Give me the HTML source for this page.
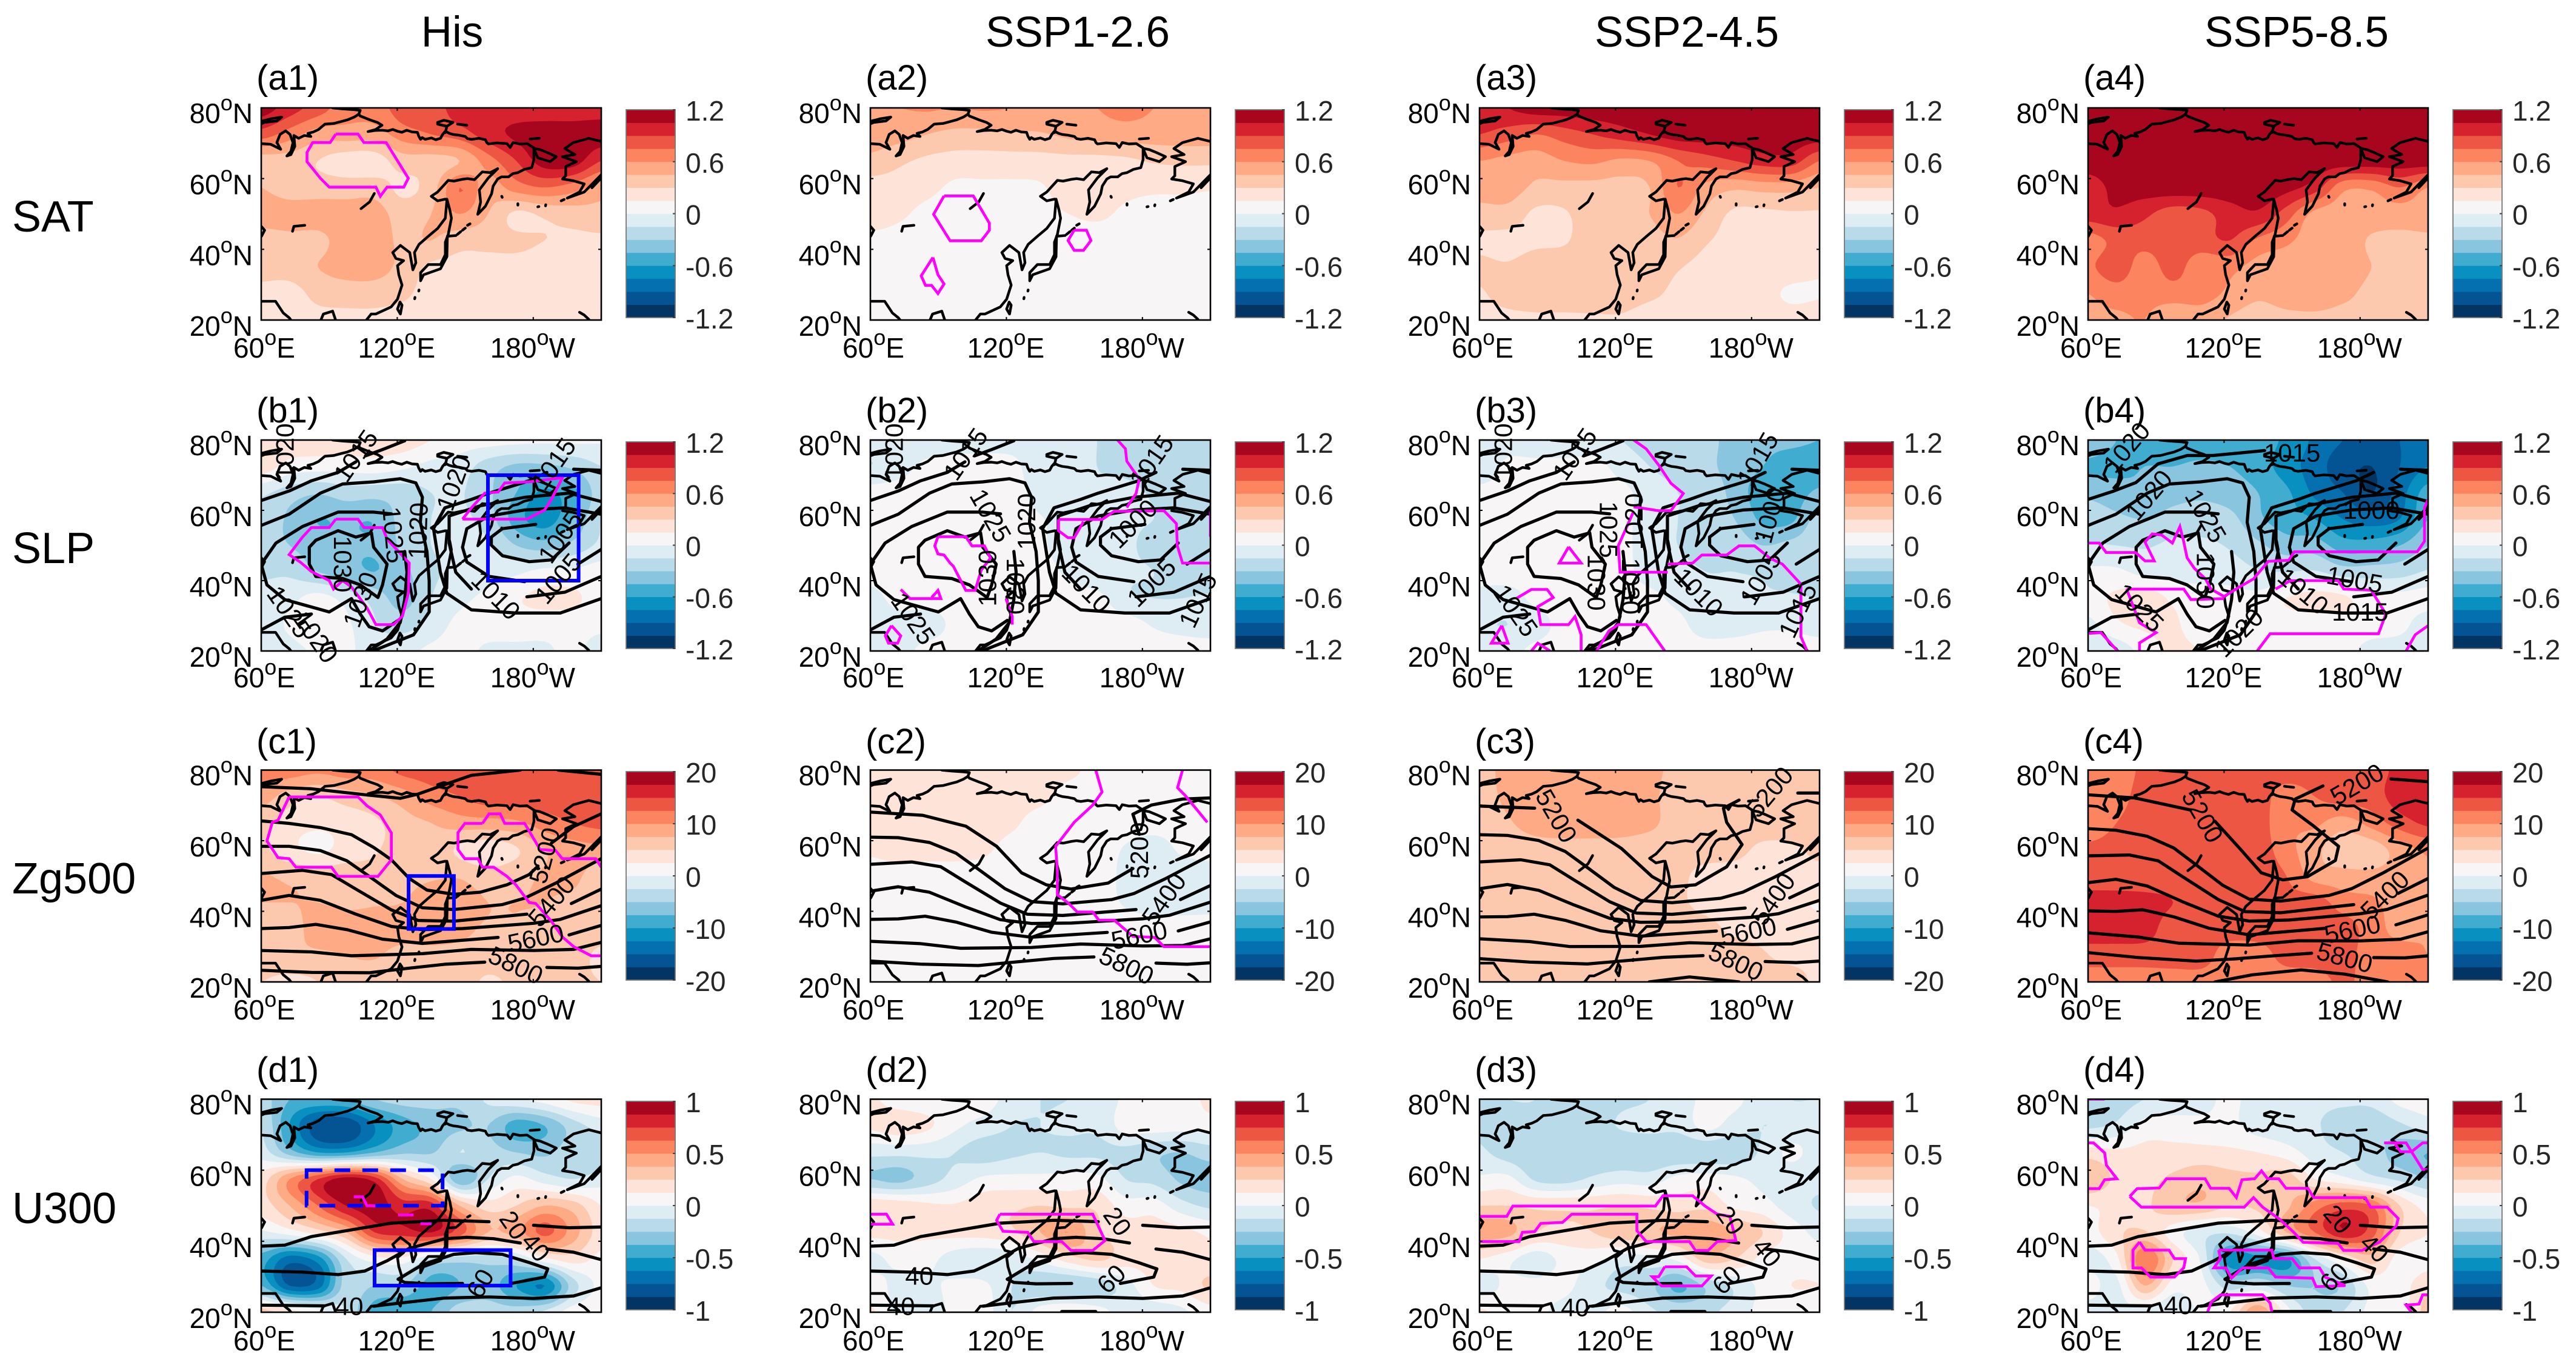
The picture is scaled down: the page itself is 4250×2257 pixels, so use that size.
<!DOCTYPE html>
<html lang="en">
<head>
<meta charset="utf-8">
<title>Anomaly maps: SAT, SLP, Zg500, U300</title>
<style>
html,body{margin:0;padding:0;background:#fff;width:4250px;height:2257px;overflow:hidden}
svg{display:block}
text{font-family:"Liberation Sans",sans-serif;fill:#000}
</style>
</head>
<body>
<svg id="chart" xmlns="http://www.w3.org/2000/svg" width="4250" height="2257" viewBox="0 0 4250 2257">
<rect x="0" y="0" width="4250" height="2257" fill="#fff"/>
<text x="746" y="77" font-size="71" text-anchor="middle">His</text>
<text x="1778" y="77" font-size="71" text-anchor="middle">SSP1-2.6</text>
<text x="2783" y="77" font-size="71" text-anchor="middle">SSP2-4.5</text>
<text x="3789" y="77" font-size="71" text-anchor="middle">SSP5-8.5</text>
<text x="20" y="382" font-size="72">SAT</text>
<text x="20" y="929" font-size="72">SLP</text>
<text x="20" y="1474" font-size="72">Zg500</text>
<text x="20" y="2018" font-size="72">U300</text>
</svg>
<script>
// ---- axis domain ----
const lonMin = 60, lonMax = 210, latMin = 20, latMax = 80;
const gridLons = [60,72.5,85,97.5,110,122.5,135,147.5,160,172.5,185,197.5,210];
const gridLats = [80,72.5,65,57.5,50,42.5,35,27.5,20];
const latTicks = [80,60,40,20];
const lonTicks = [60,120,180];
const lonTickLabels = ['60','120','180'];
const lonTickHemi = ['E','E','W'];

// ---- colour-bar tick labels ----
const cbLabelsSat = ['1.2','0.6','0','-0.6','-1.2'];
const cbLabelsSlp = ['1.2','0.6','0','-0.6','-1.2'];
const cbLabelsZg = ['20','10','0','-10','-20'];
const cbLabelsU = ['1','0.5','0','-0.5','-1'];

// ---- anomaly fields: rows follow gridLats, columns gridLons; values in colour-level units
// (1 level = 0.15 K for SAT, 0.15 hPa for SLP, 2.5 gpm for Zg500, 0.125 m/s for U300) ----
const fieldA1 = [
[7.5,6.5,5.5,4.5,4.5,5.5,5.5,6.5,6.5,6.5,6.5,6.5,6.5],
[5.5,4.5,3.5,3.5,3.5,4.5,5,5.5,6.5,7.2,7.5,7.5,7.5],
[2.5,2.5,2,1.5,1.5,2.5,2.5,3,4.5,6,7.5,7.5,6],
[3,2.5,2.5,2.5,2.5,1.8,2.5,5,3.5,4.5,5,4.5,3.5],
[3.5,3.5,3.5,3.5,3.5,2.5,3,4,3,1.8,2.2,2.5,2.7],
[2.5,2.7,2.7,3.5,3.5,2.8,3,2.4,2.3,2.2,2,1.8,1.8],
[2.4,2.5,3,3.4,3.4,2.7,1.8,1.7,1.7,1.7,1.6,1.6,1.6],
[1.7,1.6,2.3,2.5,2.5,2.2,1.6,1.6,1.6,1.6,1.6,1.6,1.6],
[1.6,1.6,1.7,1.7,1.7,1.6,1.6,1.6,1.6,1.6,1.6,1.6,1.6]];
const fieldA2 = [
[4,4,4.1,4,4.1,4,3.8,3.7,4,4.3,4,3.6,3.6],
[3.6,3.4,3,2.7,2.7,2.8,2.9,3.2,3.4,3.5,3.5,3.5,3.5],
[2.7,2.2,1.8,1.6,1.6,1.6,1.6,1.7,1.7,1.8,2.1,2.2,2.2],
[1.6,1.6,1.3,.8,.8,.8,.9,1.5,1.6,1.3,1.2,1.2,1.1],
[1.6,1.2,.7,.5,.5,.5,.7,1,1.2,.8,.6,.6,.6],
[.7,.6,.5,.5,.5,.5,.5,.5,.5,.5,.5,.5,.5],
[.5,.5,.5,.5,.5,.5,.5,.5,.5,.5,.5,.5,.5],
[.5,.5,.5,.5,.5,.5,.5,.5,.5,.5,.5,.5,.5],
[.5,.5,.5,.5,.5,.5,.5,.5,.5,.5,.5,.5,.5]];
const fieldA3 = [
[6.5,7,7.5,7.5,7.6,7.6,7.6,7.6,7.6,7.6,7.6,7.6,7.6],
[6,5.5,5,5.5,6,6.5,7,7.5,7.5,7.5,7.6,7.6,7.6],
[4,3.7,3.5,4,4.2,3.8,4,5,5.5,6,6.5,6.5,5],
[3.5,3.5,2.8,2.7,2.7,2.7,3,5,3.7,3.2,3.4,3.4,3],
[2.6,2.6,1.8,1.9,2.6,2.7,3,4,2.8,1.8,1.8,1.9,1.9],
[1.8,1.7,1.8,1.9,2.6,2.6,2.6,2.9,2.1,1.7,1.7,1.7,1.7],
[2.2,2.1,2.5,2.6,2.8,2.9,2.8,2.1,1.7,1.7,1.6,1.6,1.2],
[1.9,2.4,2.6,2.6,2.8,2.8,2.3,1.7,1.6,1.6,1.4,.8,.9],
[1.6,1.7,1.8,1.8,1.8,1.8,1.3,1.6,1.6,1.6,1.5,1.5,1.6]];
const fieldA4 = [
[7.6,7.6,7.6,7.6,7.6,7.6,7.6,7.6,7.6,7.6,7.6,7.6,7.6],
[7.6,7.6,7.6,7.6,7.6,7.6,7.6,7.6,7.6,7.6,7.6,7.6,7.6],
[7.5,7.6,7.6,7.6,7.6,7.6,7.6,7.6,7.6,7.6,7.6,7.6,7.6],
[6.5,7.3,7.5,7.6,7.6,7.6,7.6,7.3,6.5,4.3,4.2,5,4],
[6.5,6.8,6.2,5.5,5.7,6.5,6.8,5.5,3.7,3.5,3.5,3.5,3.6],
[4.5,5.3,5.4,5.5,5.6,6,4.8,4.2,3.5,3.5,2.9,2.8,2.8],
[4.8,5.6,4.5,5.4,4.3,4.3,3.6,3.5,3.5,3.5,3,2.8,2.8],
[4,4.5,4.3,4.5,4.4,3.8,3.2,3.5,3.5,3.2,2.8,2.8,2.8],
[3.8,3.8,4,3.2,3.4,2.9,2.5,2.7,2.8,2.7,2.7,2.7,2.7]];
const fieldB1 = [
[1.5,1.6,1.6,1.6,1.6,1.5,1,.5,.4,.3,.2,.2,.1],
[1.6,.6,.4,.4,.5,.2,-.3,-.5,-1.5,-2.2,-2.2,-1.8,-1],
[-.8,-1.5,-1.9,-1.5,-1.6,-1.5,-1,-.9,-1.8,-3,-4.2,-3.3,-1.5],
[-1.2,-2.2,-3,-2.8,-2.9,-1.6,-1,-.8,-1.5,-3.5,-4.5,-3,-1],
[-1.5,-2,-2.5,-2.8,-2.8,-1.8,-1,-.8,-.8,-2,-2.5,-1.7,-.8],
[-1.2,-1.2,-2,-2.5,-3,-2.3,-1.2,-.8,-.5,-.2,.3,.2,.5],
[-.6,-.3,.4,-.4,-1.4,-2.4,-1,-.3,.3,.9,1.2,1.2,.5],
[-.7,.2,1,.2,-.9,-1.4,-.6,.3,.5,.5,.5,.4,.3],
[-.7,-.4,.2,.3,-.7,-.3,.2,.4,-.2,-.2,-.2,.3,-.6]];
const fieldB2 = [
[-.5,-.6,-.8,-.6,-.5,-.4,-.4,-.6,-1,-1.4,-1.5,-1.5,-1.5],
[-1,-.5,.3,.5,.5,.3,-.7,-.8,-1,-1.2,-1.5,-1.3,-1.3],
[.4,.5,.6,.6,.6,.6,-.6,-.8,-.9,-.8,-1.1,-1.4,-1.4],
[.4,.5,.5,.5,.5,.5,.1,-.7,-.8,-.9,-1,-1.2,-1.3],
[.3,.4,.5,.5,.4,.4,.2,-.7,-.9,-.9,-1.2,-1.4,-1.5],
[.4,.5,.5,.5,.5,.4,.4,-.2,-.8,-.9,-1,-1.3,-1.5],
[-.4,.4,.5,.5,.5,.4,.4,.3,.3,-.8,-1,-1,-.9],
[-.8,-.5,-.6,.3,.5,.4,.4,.5,.5,.5,-.1,-.4,-.6],
[-.6,-.5,.4,.5,.5,.5,.5,.5,.5,.5,.5,.5,.5]];
const fieldB3 = [
[-.6,-.6,-1,-1,-.7,-1,-1.3,-1.3,-1.6,-2.5,-2.8,-2.8,-3],
[-1,.3,.4,.4,.4,-.4,-1,-1.3,-1.7,-2.5,-3,-3.5,-3.5],
[.4,.5,.5,.5,.5,.3,-.5,-1,-1.2,-2.4,-3.5,-3.5,-2.8],
[.4,.5,.5,.5,.5,.3,-.5,-1,-1.3,-2,-3.2,-3.2,-1.5],
[.3,.4,.5,.5,.4,.4,-.7,-1,-1.2,-1.4,-2,-1.7,-1.3],
[.3,.5,.5,.5,.4,.4,-.5,-.8,-1,-1,-1.1,-1.3,-1.5],
[-.3,-.5,.3,.5,.4,.4,.3,-.3,-.8,-.9,-.9,-.9,-1],
[-.9,-1,-.5,.4,.4,.4,.3,.3,-.6,-.5,-.2,-.2,-.5],
[-.6,-.4,.3,.4,.4,.4,.5,.5,.5,.5,.5,.5,.5]];
const fieldB4 = [
[-2.2,-3,-3.5,-3.6,-3.6,-3.5,-3.6,-4.2,-5.2,-6,-6.2,-6,-5.5],
[-3.2,-3.3,-3,-3,-2.8,-3,-3.5,-4.5,-5.5,-6.6,-7,-6,-5],
[-2.2,-2.5,-2.8,-2.4,-2.2,-2.5,-3,-3.8,-5.2,-6,-7,-5.5,-3.5],
[-1.5,-1.8,-2,-1.6,-1.5,-1.7,-2.8,-3.5,-4,-5,-5.5,-5,-3],
[-.9,-1,-1.1,-.8,-.8,-1.1,-1.8,-2.5,-2.5,-3.5,-3.5,-3,-2],
[.2,.2,-.3,-.4,-.4,-.5,-.9,-1,-.9,-1.5,-1.5,-1.4,-.9],
[.6,1.2,1.6,.8,.4,.4,.3,1,1.4,1.2,.3,.3,.4],
[-.3,.8,1.2,1.2,.3,.5,.5,.5,.5,.5,.4,.3,-.6],
[-.7,-.6,.4,1.2,1,.5,.5,.5,.5,.3,-.3,-.5,-.7]];
const fieldC1 = [
[4.6,4.5,4.2,4.5,4.5,5.3,5.5,5.5,5.5,5.5,5.4,5.2,5.2],
[3.5,2.5,2,2.5,2.9,3.5,4.5,5,5.5,5.5,5.5,5.5,5.5],
[2.4,1.5,1.2,1.4,1.8,2.6,3,3.5,3.6,3.8,4.5,5,5.3],
[2.2,1.3,.8,1.4,1.9,2.4,2.8,1.8,1.4,1.9,3,3.5,3.7],
[3.1,2.8,2.6,2.6,2.4,2.7,2.9,2.9,2.4,2.7,3.1,3.2,2.5],
[3,3,3,2.8,2.9,3,3.5,3.6,3,3,3,2.8,2.8],
[2.4,2.5,3.5,3.5,3.5,3.5,3.5,3.2,2.9,2.9,2.8,2.5,2.5],
[2.6,2.8,2.8,3,3.1,2.6,2.7,2.8,2.7,2.6,2.5,2.4,1.8],
[2,1.7,2,2.5,2.4,2.4,2.5,2.6,1.8,2.3,2.5,2.2,2]];
const fieldC2 = [
[1.4,1.5,1.5,1.5,1.5,1.5,1.5,1.3,.6,.4,.4,.5,.5],
[1.4,1.5,1.5,1.5,1.5,1.5,1.3,.5,.5,.5,.5,.5,.5],
[1.4,1.5,1.5,1.5,1.5,1.2,.5,.5,.5,.5,.5,.5,.5],
[1.2,1.5,1.4,1.4,1.2,.6,.5,.4,.5,-.1,-.6,.2,.4],
[.4,.5,.5,.5,.5,.5,.5,.4,.4,-.2,-.6,-.7,-.5],
[.5,.5,.5,.5,.5,.5,.5,.5,.4,-.1,-.5,-.5,-.4],
[.5,.5,.5,.5,.5,.5,.5,.5,.5,.5,.5,.5,.5],
[.5,.5,.5,.5,.5,.5,.5,.5,.5,.5,.5,.5,.5],
[.5,.5,.5,.5,.5,.5,.5,.5,.5,.5,.5,.5,.5]];
const fieldC3 = [
[2.5,3.4,3.6,3.6,3.6,3.5,3.2,2.8,2.6,2.6,2.5,2.5,2.5],
[2.6,3.2,3.5,3.6,3.6,3.5,3.2,2.6,2.5,2.5,2.5,2.5,2.5],
[2.5,2.9,3.4,3.6,3.6,3.5,3.2,2.6,2.5,2.5,2.5,2.6,2.7],
[2.5,2.5,2.6,2.6,2.6,2.6,2.5,2.5,2.5,2.3,1.8,1.8,2.3],
[2.5,2.5,2.5,2.6,2.6,2.6,2.6,2.3,1.6,1.6,1.6,1.6,1.6],
[2.6,2.6,2.6,2.6,2.6,2.6,2.6,2.2,1.7,1.6,1.6,1.1,1],
[2.6,2.7,2.7,2.7,2.7,2.7,2.6,2.5,2.3,1.8,1.7,1.4,1.2],
[2.6,2.6,2.5,2.5,2.5,2.5,2.5,2.5,2.5,2.5,2.1,1.7,1.7],
[2.5,2.5,2.5,2.5,2.5,2.5,2.5,2.5,2.5,2.5,2.5,2.5,1.7]];
const fieldC4 = [
[4.5,4.3,5.3,5.5,5.5,5.5,5.5,5.5,5.5,5.5,5.5,6.3,6.6],
[5,4.6,5.5,5.5,5.5,5.5,5.5,4.5,5,5.5,5.5,6.5,6.6],
[4.2,5,5.5,5.5,5.5,5.5,5.5,4.2,4.2,3.5,4.4,5.5,6.2],
[5.3,5.5,5.5,5.5,5.5,5.3,5.5,4.4,3.3,2.3,2.4,3.5,4.2],
[5.5,5.5,5.5,5.5,5.5,5.5,5.5,5,3.6,3.4,3.3,3.5,4],
[6.4,6.4,6.3,6,5.5,5.5,5.5,5.3,5.5,4.5,4.2,3.6,4],
[6.5,6.5,6.4,5.5,5.5,5.5,5.5,5.5,5.5,5.5,4.5,3.7,4],
[5.5,5.5,5.5,5.5,5.5,4.4,4.5,5.4,5.5,5.5,4.4,4.4,4],
[4.5,4.5,4.5,4.5,4.5,4.4,4.4,4.4,4.5,5.2,4.5,4.3,4.3]];
const fieldD1 = [
[-1.5,-3,-3.2,-3,-2,-1.6,-1.6,-1.8,-.8,-.2,.4,1.2,1.4],
[-1,-4,-6.6,-6.8,-5,-3.5,-2.7,-2.2,-2,-3.5,-3,-1.5,-.6],
[-.5,-2.5,-4,-4,-3,-2.2,-2.1,-1,-1.5,-2,-2.2,-1.5,-2],
[1.5,4,6,7.5,6.5,3,1,-2.8,-1,.3,-.5,-1,-.5],
[1.5,3,5,7,7.5,6.5,6.5,3,1.5,2,3,2.5,1],
[-.2,.5,1.5,3,6,6.5,7,5.5,3,3.5,5.3,3.5,1.5],
[-3.5,-5.5,-4.5,-1,.5,.7,-1,-1.5,-1.5,-1,.7,1.5,.7],
[-3,-6,-5.5,-1.5,-2,-2,-3.5,-3,-2.5,-4,-5,-1.5,.3],
[2.5,1.5,.5,-1,-3.5,-4,-3,-1.5,-1.5,-1.5,-.8,.5,.7]];
const fieldD2 = [
[1.2,.5,.3,.4,.5,-.5,-1,-1,-.8,.2,.3,.4,1.3],
[1.2,1.6,1.2,.2,-.4,-1,-1,-.8,-.8,.4,.5,.4,.5],
[-.7,-.7,-.7,-1,-1.5,-1.2,-1,-1.2,-1.2,-1.3,-1.8,-2,-1.5],
[-2,-2.3,-1.5,-.6,.2,.3,.3,.4,.3,-1,-1.3,-2.2,-2.5],
[1.8,1.6,1.2,1.1,1.6,1.8,2,1.8,1.8,.5,.5,-.6,-1.2],
[1.3,1.3,1.2,1.3,1.4,1.8,3,4,2.2,1.5,1.5,1.3,.8],
[-.3,.3,.3,-.5,-.8,-.6,.3,1.5,2.2,1.5,1.4,1.6,1.2],
[.5,-.3,-.2,.2,.2,-1,-1.8,-2,-1.7,-.5,1,1.3,2.2],
[1.2,-.4,-.4,.2,.5,-1,.5,1,.5,-.5,-.6,-.2,.6]];
const fieldD3 = [
[-1.2,-1,-1,-1.5,-1.5,-1.2,-1,-.6,.3,.3,-.7,-1,-1],
[-1.2,-1.5,-1.5,-1.7,-1.5,-.9,-.7,-.7,.3,-.5,-1,-.7,-.3],
[-.8,-1.5,-1.8,-1.8,-1.8,-1.8,-1.8,-1.8,-1.7,-1.7,-.8,.2,-.5],
[.2,.3,-1.2,-1.4,-.8,-.4,-.5,.3,.5,.2,-.3,-.6,-.7],
[2,2,1.8,1.8,1.8,2,1.8,1.5,1.7,.8,.4,-.5,-1.1],
[3.5,3.3,2,1.7,2,2.7,2.8,3.3,3.8,3,2,.6,-.3],
[1,.3,-.6,.3,.3,-.5,-.3,.3,2.5,2,.7,.5,.5],
[-.5,.2,.3,.3,-.7,-1.3,-1.7,-3.2,-1.8,-.8,.3,1,1],
[1.2,.5,.3,-.4,-.4,.4,-.8,-1.2,-1.2,-.6,.3,.3,.3]];
const fieldD4 = [
[-1.5,-1.5,-1,-.7,-.5,.3,-.7,-.8,-.8,-.8,-.7,.3,.5],
[-1.2,-.8,.4,.5,.4,.3,-.5,-.8,-.9,-1.5,-1.8,-1.2,-.5],
[1.5,1.2,1.3,1.3,1.3,1.2,1,.5,-.5,-1,-1.5,-2.5,-3],
[3,1.8,1.7,2.2,2.7,2.3,2.2,2.5,1,.3,-.6,-1.2,-2],
[1,1.3,1.8,2.7,2.8,2,2.2,2.8,4.5,5.5,5,2,.6],
[.5,1.8,2.1,.5,-.6,-.8,.5,3,5,6.8,5.5,2,1],
[-.5,.7,5,2,-.2,-4.5,-4.2,-4.2,-1,1,2.5,.5,.5],
[.5,-.3,3,.5,.3,-1.5,-.8,-2,-2,-1.8,.3,.5,1.8],
[-.5,-.4,-.4,-1,.3,1,4,.5,-1.5,-1,.3,.3,2.5]];

// ---- coastlines as flat lon,lat lists ----
const coastlines = [
[60,69.9,64.2,69.7,68.6,68.3,66.9,70.2,68.3,72.5,70.8,73.5,72.7,72.5,74,70.2,73.1,67.7,71.3,66.4,73.1,66.8,74.8,69.1,74.4,72.2,76.5,71.4,79,72.2,81.9,71.9,80.6,72.8,83,73.2,85.3,73.9,88.1,75.4,92,75.6,95.5,76.2,98,76.6,101,77.4,103,78.2,103.7,79.3,101,79.5,96,79.7,91.5,80],
[103,78.2,103.7,77.7,108,76.6,111.2,75.9,113.3,75.1,110.5,73.9,107.1,73.3,110,73.6,113.3,73.7,116,73.5,118,73.9,120.1,73.4,122,73.1,124.2,73.7,126.5,73.2,128.9,73.1,129.5,72,130.3,71.1,131,71.6,132.3,71.1,135,71.5,137,71,139.1,71.4,140,72.5,141.2,73.4,143,72.8,144.6,72.5,147,72.3,150,71.9,151,71.3,152.8,71.1,156,71.4,158.9,71,159.5,70.2,160.2,69.8,164,70.1,168.4,69.9,169.8,68.8,171.1,70.2,174,69.8,177.3,69.9,180.7,68.5,183,68.2,186.1,67.4,190.2,66.2,187.5,64.8,182,65.9,180.3,68.5,180.3,65.4,179.3,63.1,176,62.6,173.2,61.7,171,61.4,169.1,60.5,166,60.5,164.3,59.9,162.3,57.9,161.6,55.7,158.9,52.2,155.5,49.9,156.8,53.4,156.2,56.8,160.2,60.2,164.3,62.8,161,61.7,157.5,61.9,154.1,59.7,151,60,148.7,59.8,145,59.3,142.5,59.5,137.8,56.2,135,55,137.8,53.7,141.2,54.2,141.9,53.9,141.2,48.8,137.8,45.9,133.7,43.7,129.6,41.4,127.6,39.1,128.2,36.2,126.9,34.2,125.5,39.1,121.4,41.1,118,39.1,119.4,37.4,122.8,36.8,120.1,35.4,120.7,32.8,122.1,29.9,120.1,25.9,117.3,23.7,110.5,21.7,108.5,21.7,106.4,20],
[141.9,54.2,143.2,51.1,143.9,48.8,142.5,44.2,141.2,42,141.2,38.5,139.1,35.7,133.7,35.7,130.3,33.4,130.3,31.1,131.6,32.8,139.1,34.5,141.9,37.9,142.1,43.7,145.9,43.9],
[210,70.5,204.5,71.4,197.7,70.2,193.9,68.5,198.4,66.8,192.9,66.2,199,64.8,194.3,63.4,194.3,60.8,192.9,59.9,197.7,59.4,202.5,58.5,200.4,56.2,195,54.5,202.5,56.2,210,61.1],
[210,60.2,205.9,57.4],
[178.6,71.2,182.7,71.4],
[137.8,75.9,140.5,76.5,144.6,75.9,141.9,74.8,137.8,75.4,137.8,75.9],
[141.9,74.8,141.2,73],
[146.6,75.4,150.7,75.1],
[60,76.2,64.2,76.9,69,77.4,66.9,76.3,61.5,75.9,60,75.5],
[109.9,55.8,107.8,53.4,104,51.5],
[73.8,45.1,74.4,46.5,79.2,46.8],
[60,46.5,61.5,45.4,60.1,43.7],
[60,25.3,66.3,25.3,69.7,22,72.4,20.6,73.1,20],
[86.3,20,87.4,21.7,91.5,22.5,92.8,20],
[121.2,25.1,120.1,23.1,121.4,21.7,122.1,24.2,121.2,25.1],
[129.6,28.5,129.5,28.2],[127.8,26.4,127.7,26],
[200.4,22.2,202.5,21.4,204.5,20.2],
[146.5,44.2,148,45],[148.8,45.4,150,46],[151,46.8,152.1,47.2],
[192.3,53.7,193.6,54.1],[185.4,52.3,185.5,52.6],[182,52,182.5,52.1],[173.2,52.9,173.2,52.5],[166.1,55,166.3,54.7]
];

// ---- climatology contours (lon,lat lists) ----
const slpWest1a = [[60,62.8,72.3,65.5,82.1,68.4,93.9,70.8,101.7,73.8],[106,75.5,113.5,77.3,123.3,79.8]];
const slpWest1b = [[60,63.1,71.4,65.5,81.1,67.9,90.8,73.2,103.8,75.6,115.1,75.6,137.9,77]];
const slpShared = [
[60,55.7,72.3,58.9,86.1,64.9,95.9,67.5,109.6,68.1,121.3,69,128.2,67.8,131.1,63.7,130.2,56.6,133.1,48.3,134.1,40,134.1,31.1,127.2,24.6,109.6,20.1],
[60,44.7,66.5,50.7,78.2,55.4,93.9,59.5,109.6,59.5,117.4,59],
[123.3,48.3,124.3,42.4,123.3,34.6,121.3,28.1,115.5,23.4,107.6,20.1],
[60,44.7,62.5,38.8,70.4,34.6,90,31.1,99.8,34.9,103.7,30.5,107.6,26.9,113.5,25.7,120.4,28.7],
[81.2,49.5,84.1,51.5,93.9,54.2,101.7,52.4,108.6,53.6,109.6,49.5,115.5,44.7,113.5,38.8,111.5,35.2,103.7,38.8,95.9,40.6,84.1,41.2,81.2,44.7,81.2,49.5],
[60,26,70.4,29.6,82.1,30.5],
[136,54.8,139,42.4,141.9,36.4,152.7,31.7,172.3,30.8,191.9,30.8,210,34.9],
[136,54.8,141,60.7,152.7,63.1,160.5,64.9,178.2,68.4,186,70.8],[197.8,71.7,210,71.4],
[142.9,50.7,142.9,58.4,156.6,61.3,176.2,63.7,195.8,64.9,210,62.5],
[142.9,50.7,145.8,42.4,152.7,37.6],[177.2,35.4,193.9,36.7,210,41.2],
[148.8,49.5,150.7,54.8,160.5,58.4,176.2,60.1,193.9,60.7,210,58.9],
[148.8,49.5,150.7,45.3,160.5,41.2,176.2,39.7],[199.7,44.7,210,48.9],
[161.5,52.4,166.4,54.8,181.1,56],[195.8,50.7,188,45.9,178.2,45.4,166.4,47.1,161.5,50.1,161.5,52.4]
];
const zgShared = [
[60,58.4,72.3,58.4,86.1,57.2,97.8,54.3,107.6,49.9,119.4,44.5,131.1,41,144.9,40.5,166.4,41.9,176.2,43.7,190,48,210,54.9],
[60,50.7,78.2,51.6,91,50.4,101.7,46.3,117.4,40.4,129.2,37.4,144.9,37.2,177.2,39.2],[196.8,42.2,210,46.3],
[60,43.1,72.3,44.5,86.1,43.1,101.7,39.2,117.4,35.7,131.1,34.8,148.8,35.1,180.1,36.6,191.9,37.7,210,41.6],
[60,35.1,72.3,35.4,84.1,36.3,97.8,34.8,113.5,32.1,131.1,30.9,164.5,32.6],[195.8,33.3,210,36],
[60,28.9,82.2,28.5,99.8,27.4,131.1,28,152.7,29.2,180.1,28.9,197.8,29.2,210,31.2],
[60,23.3,82.2,22.7,107.6,22.6,125.3,23.9,140.9,25,158.6,25.6],[186,24.1,199.7,23.9,210,24.4]
];
const zgLinesC1 = [
[60,75.3,82.2,74.7,107.6,72.9,121.3,72,129.2,73.2,141,75.9,152.7,78.5,174.3,80],[191,80,210,78.8],
[60,65.6,72.3,64.9,86.1,63.7,99.8,61.7,109.6,58.1,117.4,54.6,125.3,49.3,133.1,46,144.9,44.8,156.6,45.4,168.4,47.5,178.2,50.4,182.1,52.8],[188,59.3,197.8,64,210,67.6]
];
const zgLinesC2 = [
[60,68.1,83,67.2,102.1,64.1,115.7,58.4,126.7,50.9,137.6,47.5,148.5,46.3,164.9,48,175.8,52.1],[178.6,61.8,175.8,67.5,184,70.1,197.7,71.8,210,72.1]
];
const zgLinesC3 = [
[60,69.8,84.3,69.2],[103.4,65.8,122.6,57.8,136.2,49.8,144.4,46.9,155.3,47.5,169,52.6,175.8,58.9,169,65.2,167.6,69.2,174.5,71.5],[200.4,73.5,210,73.5],
[134.9,20,152.6,21.4,174.5,20]
];
const zgLinesC4 = [
[60,73,80.6,72.1,105.1,68.7],[116,65.5,126.9,57.8,136.4,50.9,145.9,48.9,156.8,49.8,169.1,54.4,170.5,58.4,159.6,64.1,150,68.7,151.4,71.8,163.6,75.5],[193.6,77.5,210,76.7],
[116,20,132.4,22,154.1,23.4,173.2,22.2,192.2,20]
];
const zgShiftC1 = [0,0,0];
const zgShiftC2 = [2.6,1.7,1];
const zgShiftC3 = [3.3,2,1.5];
const zgShiftC4 = [5,2.3,3];
const uShared = [
[60,38.6,70.4,38.9,82.1,41.3,97.8,43,117.4,45.1,140.9,45.9,160.5,45.5],[180.1,44.5,195.8,43.8,210,44],
[60,31.6,78.2,31.3,93.9,30.6,105.7,31.6,115.5,34.5,125.3,38,141,40.7,150.7,41.1,162.5,40.7,174.3,39.5],[186,37.8,197.8,36.9,210,34.8],
[120.4,29.3,131.1,33.4,144.9,36.3,154.7,36.8,166.4,36.3,178.2,34,186.4,32.2,185,29.9,170.3,28.1],[148.8,28.1,133.1,28,123.3,28.4,120.4,29.3],
[60,22,87.9,21.8],[109.6,21.7,121.3,22.6,141,24,160.5,24.3,180.1,23.9,197.8,24.6,210,26.9]
];
const uExtraD23 = [[144.4,20.2,159.4,20.2]];
const uExtraD4 = [[141.9,20.2,167,20.2]];

// ---- contour labels: lon, lat, text, rotation ----
const labelsB1 = [[70.4,76.7,'1020',-90],[101.7,75.5,'1015',-55],[144.9,67.8,'1020',-70],[129.2,54.2,'1020',-88],[118.4,53,'1025',85],[95.9,44.7,'1030',90],[103.7,34.6,'1030',-70],[72.3,31.1,'1025',55],[84.1,24,'1020',55],[163.5,35.8,'1010',45],[191,40.6,'1005',-50],[191.9,52.4,'1005',-55],[189,73.2,'1015',-55]];
const labelsB2 = [[70.4,76.7,'1020',-90],[102,76,'1015',-55],[184,74,'1015',-55],[128.8,56.8,'1020',-90],[113,58.5,'1025',60],[111.6,40.7,'1030',-90],[78.9,29.2,'1025',55],[124,38.4,'1030',90],[155.3,37.8,'1010',45],[184,39.5,'1005',-45],[175.8,56.2,'1000',-45],[204.5,34.4,'1015',-65]];
const labelsB3 = [[70.4,76.7,'1020',-90],[102,76,'1015',-55],[182.7,74.6,'1015',-60],[128,56.8,'1020',-90],[117,54.5,'1025',90],[111.6,39.5,'1030',90],[76,31.5,'1025',55],[126.7,38.4,'1030',90],[156.7,36.7,'1010',45],[184,40.7,'1005',-60],[188,58.6,'1000',-75],[200.4,31.5,'1015',-65]];
const labelsB4 = [[77,77.9,'1020',-50],[150,76.4,'1015',0],[86.8,64.3,'1020',-50],[111.9,58.4,'1025',60],[111.9,40,'1030',90],[82.7,32.3,'1025',45],[126.5,25.2,'1020',-45],[177.6,40.3,'1005',10],[180,31.1,'1015',0],[154.9,37,'1010',40],[185,60.1,'1000',0]];
const labelsC1 = [[181.1,32.4,'5600',-12],[172.3,24.7,'5800',25],[188,42.8,'5400',-50],[185,55.8,'5200',-75]];
const labelsC2 = [[178.6,57.2,'5200',-90],[189.5,43.5,'5400',-55],[178.6,33.2,'5600',-12],[173,24.6,'5800',25]];
const labelsC3 = [[93.9,67,'5200',60],[188,73.8,'5200',-50],[189.5,43.5,'5400',-55],[178.6,34.3,'5600',-12],[173.1,25.7,'5800',25]];
const labelsC4 = [[110.5,67,'5200',60],[178.6,76,'5200',-30],[190.9,44.6,'5400',-45],[176.6,34.9,'5600',-12],[173.2,26.9,'5800',15]];
const labelsD1 = [[171.3,44.5,'20',55],[181.1,38.3,'40',50],[156.6,28.1,'60',-60],[98.8,21.7,'40',0]];
const labelsD2 = [[169,45.6,'20',55],[81.6,30.2,'40',0],[166.3,29.4,'60',-45],[73.4,21.7,'40',0]];
const labelsD3 = [[170.7,45.9,'20',55],[186.8,36.8,'40',50],[169,29.1,'60',-45],[102.1,21.4,'40',0]];
const labelsD4 = [[170.2,46.2,'20',50],[186.4,38,'40',45],[168.5,29.9,'60',-45],[99.7,22,'40',0]];

// ---- significance outlines (lon,lat lists) ----
const sigA1 = [[92.9,72.6,102.7,72.6,105.3,70.2,115.1,70.2,124.9,60.1,122.9,57.6,115.5,57.6,112.5,55,110.6,57.6,90,57.6,86.1,60.1,80.2,64.8,80.2,67.4,82.7,70.2,90.4,70.2,92.9,72.6]];
const sigA2 = [[92.5,55.1,105.4,55.1,112.5,47.4,112.5,45.4,108.9,42.4,95.2,42.4,87.9,49.9,92.5,55.1],[149.9,45.4,155.3,45.4,157.3,42.5,154,39.7,149.9,39.7,147.2,42.5,149.9,45.4],[87.6,37.7,89.8,32.8,92.5,30.2,89.8,27.5,87,29.8,84.3,29.8,82.4,32.5,87.6,37.7]];
const sigA3 = [];
const sigA4 = [];
const sigB1 = [[92.9,57.5,102.7,57.5,105.3,55.1,113.5,55.1,115.5,51.8,125.3,45,124.9,36.4,122.3,29.9,118.4,27.5,110.6,27.5,106.6,32.3,99.8,38.2,95.9,40,91.9,37.6,90,40,82.1,42.6,77.2,45.3,72.3,47.4,78.2,52.4,82.1,55.1,90,55.1,92.9,57.5],[148.8,57.5,152.7,60.7,158.6,64.9,164.5,65.2,167.4,67.8,178.2,68.1,192.9,69.3,188,63.1,185,60.1,177.2,57.5,148.8,57.5]];
const sigB2 = [[169,80,172.5,77.5,173.1,74,178.6,68.9,177.2,64.8,173.1,60.8],[143,57.4,162.2,57.4,167.6,59.7,189.5,59.9,195,56.2,195.4,49.9,197.7,45,210,45],[143,57.4,143,54.2,147.2,52.2,149.9,52.2,154,56.8],[210,59.7,210,52.5],[89.8,52.5,102.1,52.5,104.8,49.9,110.3,49.9,113,46.4,108.9,43,106.2,37.2,102.1,37.2,96.6,44.1,95.2,45,92.5,47.3,89.8,47.6,88.4,49.9,89.8,52.5],[73.4,37.5,77.5,34.9,91.1,34.9,89.8,37.2,87,35.2],[69.3,27.2,73.4,24.3,72,22.2,68,22.2,66.6,24.3,69.3,27.2],[119.8,34.9,122.6,29.8,122.6,27.5]];
const sigB3 = [[128,80,133.5,77.5,139,72.9,144.4,67.7,149.9,64.8,144.4,59.9,139,59.9,128,61],[128,59.7,121.2,49.9,122,42.4,143,42.4],[143,44.7,154,45,158.1,47.3,169,47.3,174.5,49.9,181.3,49.9,188.1,46.4,193.6,44.7,201.8,39,201.8,24,204.5,20],[99.3,49.6,104.8,45,95.2,45,99.3,49.6],[76.1,34.9,82.9,37.5,89.8,37.5,92.5,35.2,85.7,32.6,87,27.5,99.3,27.5,102.1,29.8,104.8,24.6,104.8,20],[69.8,27.2,72.6,22.2,65.2,22.2,69.8,27.2],[82.9,20,85.7,22.2,91.1,20],[111.6,20,117.1,25.7,121.2,27.5,133.5,27.5,141.7,20]];
const sigB4 = [[60,50.7,64.9,50.7,68,48,81,48,85.1,45.6,89.2,45.6,85.1,51,88.3,53.3,92.4,53,97.2,50.7,100.5,55.4,102.1,51.3,103.7,46.5,106.9,43.5,111.8,40.5,114.2,37.6,120,35.5,126.5,38.1,133,40.5,139.5,45.5,148.5,45.8,151,48.2,205.2,48.2,208.4,51.2,208.4,60.7,210,63.1],[60,25,65.7,25.2,73,20],[77,37.6,102.2,37.6,105.4,34.6,120,34.9],[77,37.6,82.7,28,90,25.2,82.7,22.3,82.7,20],[142.7,37.6,149.2,40,170.3,40,172.8,37.6,184.9,37.3,191.4,30.5,188.1,24.9,140.3,24.9,134.6,20],[210,27.2,204.3,24.6,200.3,20]];
const sigC1 = [[72.3,72.4,102.7,72.4,106.6,69.9,112.5,67.3,117.4,62.2,117.4,54.6,111.5,49.9,93.9,49.9,91,52.5,75.3,52.5,72.3,54.9,67.4,55.2,62.5,59.9,64.9,65.2,67.4,65.8,72.3,72.4],[157.6,64.9,160.5,67.6,165.4,67.6,167.4,64.9,176.2,64.9,183,57.5,189.9,57.2,192.8,54.9,207.6,54.9,210,52.5],[157.6,64.9,149.8,64.9,146.8,62.3,146.8,57.5,149.8,54.9,155.6,54.9,157.6,52.5,162.5,52.5,168.4,49.9,172.3,47.5,178.2,42.5,181.1,42.2,188,37.2,192.9,32.7,197.8,30,205.6,27.4,210,27.4]];
const sigC2 = [[159.4,80,162.2,73.8,158.1,70.1,149.9,65.2,141.7,58.4,142.5,51.5,142.5,44.7,147.2,42.4,151.3,39.8,158.1,39.8,160.8,37.5,167.6,37.5,175.8,32.9,185.4,32.6,189.5,30,210,30],[197.7,80,195.5,75,199,72.7,208.6,65.2]];
const sigC3 = [];
const sigC4 = [];
const sigD1 = [[100.8,52.5,104.7,52.5,106.6,50,113.5,49.9],[120.4,47.4,127.2,47.4],[130.2,44.9,135.1,44.9]];
const sigD2 = [[60,47.6,67.1,47.6,69.8,44.8,60,44.8],[117.1,47.6,158.1,47.6,163.5,40.2,158.1,37.4,148.5,37.4,144.4,39.9,132.1,39.9,129.4,42.5,118.5,42.8,115.7,45.9,117.1,47.6]];
const sigD3 = [[60,47,72,47,74.7,49.9,137.6,49.9,140.9,52.8,154,52.8,159.5,49.9,164.9,47.6,170.4,47,173.1,40.2,164.9,39.9,160.8,37.4,155.3,37.4,152.6,39.9,133.5,39.9,129.4,43,129.4,47.6,100.7,47.6,96.6,45.3,87,45,84.3,42.7,78.9,42.5,77.5,39.9,60,39.9],[141.7,32.8,151.3,32.8,155.3,30.2,162.2,30.2,158.1,27.4,140.3,27.4,136.2,30,139,30,141.7,32.8]];
const sigD4 = [[60,67.7,62.4,67.7,67.3,64.9,68.1,61.4,72.7,57.6,67.3,57.3,64.9,54.8,60,54.8],[60,80,67.3,80],[78.4,52.6,81.6,54.8,91.4,55,94.6,57.6,111.6,57.6,114.1,54.9,122.2,54.9,125.4,52.3,127.9,57.3,133.5,57.6,136.5,59.8,139.2,57.6,144.1,57.6,147.3,54.9,157,54.9,159.5,52.3,182.2,52.3,184.6,49.6,191.9,49.6,196.8,46.4,196,44.3,188.7,39.8,180.8,37.4,172.7,37.4,170.3,39.4,154.9,39.7,150.9,42.4,144.5,46.2,137,49.6,133,52.3,128.9,49.6,83.5,49.6,78.4,52.6],[82.7,39.8,85.1,37.5,95.7,37.5,98.1,35.1,103,35.1,102.2,32.5,98.1,29.9,87.6,29.9,83.5,32.5,79.8,32.5,79.8,37.5,82.7,39.8],[117.6,37.5,141.1,37.5,141.9,35.1,150,35.1,153.2,32.5,162.1,32.5,164.6,29.9,173.5,27.5,160.6,27.2,159,29.6,142.7,29.9,139.5,32.5,128.1,32.5,123.3,29.6,120.8,32.5,115.5,32.5,118.4,35.1,117.6,37.5],[112.7,20,114.3,22.9,118.4,24.9,137,24.9,140.3,22.6,141.1,20],[190.6,67.7,200.3,67.7,202.7,65.2,197.9,65.2,195.5,67.3],[210,67.7,207.6,67.7,202.7,65.2,207.6,60.2,210,60.2],[210,24.9,207.6,24.9,206,22.3,200.3,22,202.7,20]];

// ---- analysis regions: lonW, lonE, latS, latN ----
const boxB1 = [160,200,40,70];
const boxC1 = [125,145,35,50];
const boxD1Solid = [110,170,27.5,37.5];
const boxD1Dashed = [80,140,50,60];

// ---- layout and styling ----
const palette = ['#023464','#045494','#0570b0','#0890c0','#3facd0','#8ac5df','#b9dbe9','#deecf3','#f7f5f5','#fde3d8','#fdc9ae','#fdaa85','#fc8560','#ee5644','#d6222e','#a8051f'];
const colLefts = [431,1436,2441,3445];
const panelW = 561;
const rowGeom = [
 {top:178,bottom:528,cbTop:181,cbBottom:524,tagBase:148,xBase:590},
 {top:726,bottom:1074,cbTop:729,cbBottom:1070,tagBase:697,xBase:1134},
 {top:1270.5,bottom:1620,cbTop:1273,cbBottom:1617,tagBase:1243,xBase:1682},
 {top:1813.5,bottom:2165,cbTop:1817,cbBottom:2161,tagBase:1785,xBase:2228}
];
const UP = 8;
const rowSpecs = [
 {id:'a',cb:cbLabelsSat,fields:[fieldA1,fieldA2,fieldA3,fieldA4],lines:[[],[],[],[]],labels:[[],[],[],[]],sig:[sigA1,sigA2,sigA3,sigA4],shift:null,boxes:[[],[],[],[]]},
 {id:'b',cb:cbLabelsSlp,fields:[fieldB1,fieldB2,fieldB3,fieldB4],lines:[slpShared.concat(slpWest1a),slpShared.concat(slpWest1a),slpShared.concat(slpWest1a),slpShared.concat(slpWest1b)],labels:[labelsB1,labelsB2,labelsB3,labelsB4],sig:[sigB1,sigB2,sigB3,sigB4],shift:null,boxes:[[[boxB1,false]],[],[],[]]},
 {id:'c',cb:cbLabelsZg,fields:[fieldC1,fieldC2,fieldC3,fieldC4],lines:[zgShared,zgShared,zgShared,zgShared],extra:[zgLinesC1,zgLinesC2,zgLinesC3,zgLinesC4],labels:[labelsC1,labelsC2,labelsC3,labelsC4],sig:[sigC1,sigC2,sigC3,sigC4],shift:[zgShiftC1,zgShiftC2,zgShiftC3,zgShiftC4],boxes:[[[boxC1,false]],[],[],[]]},
 {id:'d',cb:cbLabelsU,fields:[fieldD1,fieldD2,fieldD3,fieldD4],lines:[uShared,uShared.concat(uExtraD23),uShared.concat(uExtraD23),uShared.concat(uExtraD4)],labels:[labelsD1,labelsD2,labelsD3,labelsD4],sig:[sigD1,sigD2,sigD3,sigD4],shift:null,boxes:[[[boxD1Solid,false],[boxD1Dashed,true]],[],[],[]]}
];

const NS = 'http://www.w3.org/2000/svg';
const chart = document.getElementById('chart');
function make(tag, attrs, parent){
  const el = document.createElementNS(NS, tag);
  for (const k in attrs) el.setAttribute(k, attrs[k]);
  parent.appendChild(el);
  return el;
}
function upsample(g){
  const R = g.length, C = g[0].length, out = [];
  const cr = (a,b,c,d,t) => b + .5*t*(c-a + t*(2*a-5*b+4*c-d + t*(3*(b-c)+d-a)));
  const at = (r,c) => g[Math.max(0,Math.min(R-1,r))][Math.max(0,Math.min(C-1,c))];
  for (let j=0;j<=(R-1)*UP;j++){
    const r = Math.min(R-2,Math.floor(j/UP)), tr = j/UP-r, row = [];
    for (let i=0;i<=(C-1)*UP;i++){
      const c = Math.min(C-2,Math.floor(i/UP)), tc = i/UP-c, v = [];
      for (let k=-1;k<=2;k++) v.push(cr(at(r+k,c-1),at(r+k,c),at(r+k,c+1),at(r+k,c+2),tc));
      row.push(cr(v[0],v[1],v[2],v[3],tr));
    }
    out.push(row);
  }
  return out;
}
function levelPath(F, L, xAt, yAt){
  const parts = [];
  const ny = F.length-1, nx = F[0].length-1;
  for (let j=0;j<ny;j++){
    let run = -1;
    const y0 = yAt(j), y1 = yAt(j+1);
    for (let i=0;i<=nx;i++){
      const full = i<nx && F[j][i]>=L && F[j][i+1]>=L && F[j+1][i]>=L && F[j+1][i+1]>=L;
      if (full){ if (run<0) run = i; continue; }
      if (run>=0){
        parts.push('M'+xAt(run).toFixed(1)+' '+y0.toFixed(1)+'H'+xAt(i).toFixed(1)+'V'+y1.toFixed(1)+'H'+xAt(run).toFixed(1)+'Z');
        run = -1;
      }
      if (i===nx) break;
      const cs = [[xAt(i),y0,F[j][i]],[xAt(i+1),y0,F[j][i+1]],[xAt(i+1),y1,F[j+1][i+1]],[xAt(i),y1,F[j+1][i]]];
      const poly = [];
      for (let k=0;k<4;k++){
        const p = cs[k], q = cs[(k+1)%4];
        if (p[2]>=L) poly.push(p);
        if ((p[2]>=L)!==(q[2]>=L)){
          const t = (L-p[2])/(q[2]-p[2]);
          poly.push([p[0]+t*(q[0]-p[0]),p[1]+t*(q[1]-p[1])]);
        }
      }
      if (poly.length>2) parts.push('M'+poly.map(p=>p[0].toFixed(1)+' '+p[1].toFixed(1)).join('L')+'Z');
    }
  }
  return parts.join('');
}

rowSpecs.forEach((spec, rowIdx) => {
  const geo = rowGeom[rowIdx];
  const h = geo.bottom-geo.top;
  colLefts.forEach((left, colIdx) => {
    const xOf = lon => left + (lon-lonMin)/(lonMax-lonMin)*panelW;
    const yOf = lat => geo.top + (latMax-lat)/(latMax-latMin)*h;
    const panelId = spec.id+(colIdx+1);
    const panel = make('g',{},chart);
    
    

    const clip = make('clipPath',{id:'clip-'+panelId},panel);
    make('rect',{x:left,y:geo.top,width:panelW,height:h},clip);
    const plot = make('g',{'clip-path':'url(#clip-'+panelId+')'},panel);
    
    

    // filled anomaly contours
    const F = upsample(spec.fields[colIdx]);
    const xAt = i => xOf(gridLons[0] + (gridLons[1]-gridLons[0])*i/UP);
    const yAt = j => yOf(gridLats[0] + (gridLats[1]-gridLats[0])*j/UP);
    let lo = Infinity, hi = -Infinity;
    F.forEach(r => r.forEach(v => { if (v<lo) lo=v; if (v>hi) hi=v; }));
    const startL = Math.max(-8,Math.min(7,Math.floor(lo)));
    const base = make('rect',{x:left,y:geo.top,width:panelW,height:h,fill:palette[startL+8]},plot);
    
    
    for (let L=startL+1;L<=7 && L<hi;L++){
      const band = make('path',{d:levelPath(F,L,xAt,yAt),fill:palette[L+8]},plot);
      
      
    }

    const toPath = (pts, shift) => {
      let d = '';
      for (let i=0;i<pts.length;i+=2){
        let lat = pts[i+1];
        const lon = pts[i];
        if (shift) lat += lon<135 ? shift[0]+(shift[1]-shift[0])*(lon-60)/75 : shift[1]+(shift[2]-shift[1])*(lon-135)/75;
        d += (i?'L':'M')+xOf(lon).toFixed(1)+' '+yOf(lat).toFixed(1);
      }
      return d;
    };

    // coastlines
    const coastG = make('g',{fill:'none',stroke:'#000','stroke-width':4.4,'stroke-linejoin':'round','stroke-linecap':'round'},plot);
    
    
    coastlines.forEach(pts => {
      const line = make('path',{d:toPath(pts,null)},coastG);
      
      
    });

    // climatology contours
    const contourG = make('g',{fill:'none',stroke:'#000','stroke-width':5.2,'stroke-linejoin':'round','stroke-linecap':'round'},plot);
    
    
    const shift = spec.shift ? spec.shift[colIdx] : null;
    spec.lines[colIdx].forEach(pts => {
      const line = make('path',{d:toPath(pts,shift)},contourG);
      
      
    });
    if (spec.extra) spec.extra[colIdx].forEach(pts => {
      const line = make('path',{d:toPath(pts,null)},contourG);
      
      
    });

    // significance outlines
    const sigG = make('g',{fill:'none',stroke:'#ff00ff','stroke-width':4.6,'stroke-linejoin':'miter'},plot);
    
    
    spec.sig[colIdx].forEach(pts => {
      const line = make('path',{d:toPath(pts,null)},sigG);
      
      
    });

    // analysis boxes
    spec.boxes[colIdx].forEach(entry => {
      const b = entry[0];
      const attrs = {x:xOf(b[0]),y:yOf(b[3]),width:xOf(b[1])-xOf(b[0]),height:yOf(b[2])-yOf(b[3]),fill:'none',stroke:'#0000ff','stroke-width':6};
      if (entry[1]) attrs['stroke-dasharray'] = '26 20';
      const box = make('rect',attrs,plot);
      
      
    });

    // frame and ticks
    const frame = make('rect',{x:left,y:geo.top,width:panelW,height:h,fill:'none',stroke:'#000','stroke-width':2.6},panel);
    
    
    latTicks.forEach(lat => {
      const y = yOf(lat);
      const t1 = make('path',{d:'M'+left+' '+y+'h5M'+(left+panelW)+' '+y+'h-5',stroke:'#000','stroke-width':2,fill:'none'},panel);
      
      
      const label = make('text',{x:left-14,y:y+(lat===80?25:26),'font-size':46,'text-anchor':'end'},panel);
      
      
      label.appendChild(document.createTextNode(String(lat)));
      const s = make('tspan',{'font-size':36,dy:-21},label);
      s.textContent = 'o';
      const n = make('tspan',{dy:21},label);
      n.textContent = 'N';
    });
    lonTicks.forEach((lon,i) => {
      const x = xOf(lon);
      const t2 = make('path',{d:'M'+x+' '+geo.top+'v5M'+x+' '+geo.bottom+'v-5',stroke:'#000','stroke-width':2,fill:'none'},panel);
      
      
      const label = make('text',{x:x+(i===0?5:-1),y:geo.xBase,'font-size':46,'text-anchor':'middle'},panel);
      
      
      label.appendChild(document.createTextNode(lonTickLabels[i]));
      const s = make('tspan',{'font-size':36,dy:-21},label);
      s.textContent = 'o';
      const e = make('tspan',{dy:21},label);
      e.textContent = lonTickHemi[i];
    });

    // contour labels
    spec.labels[colIdx].forEach(l => {
      const px = xOf(l[0]), py = yOf(l[1]);
      const t = make('text',{x:px,y:py,'font-size':42,'text-anchor':'middle','dominant-baseline':'central',transform:'rotate('+l[3]+' '+px+' '+py+')'},panel);
      
      
      t.textContent = l[2];
    });

    // panel tag
    const tag = make('text',{x:left-8,y:geo.tagBase,'font-size':58},panel);
    
    
    tag.textContent = '('+panelId+')';

    // colour bar
    const cb = make('g',{},panel);
    
    
    const cbX = left+602, cbW = 81, cbH = geo.cbBottom-geo.cbTop, bandH = cbH/palette.length;
    palette.forEach((c,i) => {
      const r = make('rect',{x:cbX,y:geo.cbBottom-(i+1)*bandH,width:cbW,height:bandH+.4,fill:c},cb);
      
      
    });
    const cbFrame = make('rect',{x:cbX,y:geo.cbTop,width:cbW,height:cbH,fill:'none',stroke:'#777','stroke-width':1.8},cb);
    
    
    spec.cb.forEach((txt,i) => {
      const ty = geo.cbTop + cbH*i/(spec.cb.length-1);
      const tk = make('path',{d:'M'+(cbX+cbW)+' '+ty+'h-4',stroke:'#444','stroke-width':2,fill:'none'},cb);
      
      
      const lab = make('text',{x:cbX+cbW+17,y:ty+18,'font-size':46,style:'fill:#262626'},cb);
      
      
      lab.textContent = txt;
    });
  });
});
</script>
</body>
</html>
